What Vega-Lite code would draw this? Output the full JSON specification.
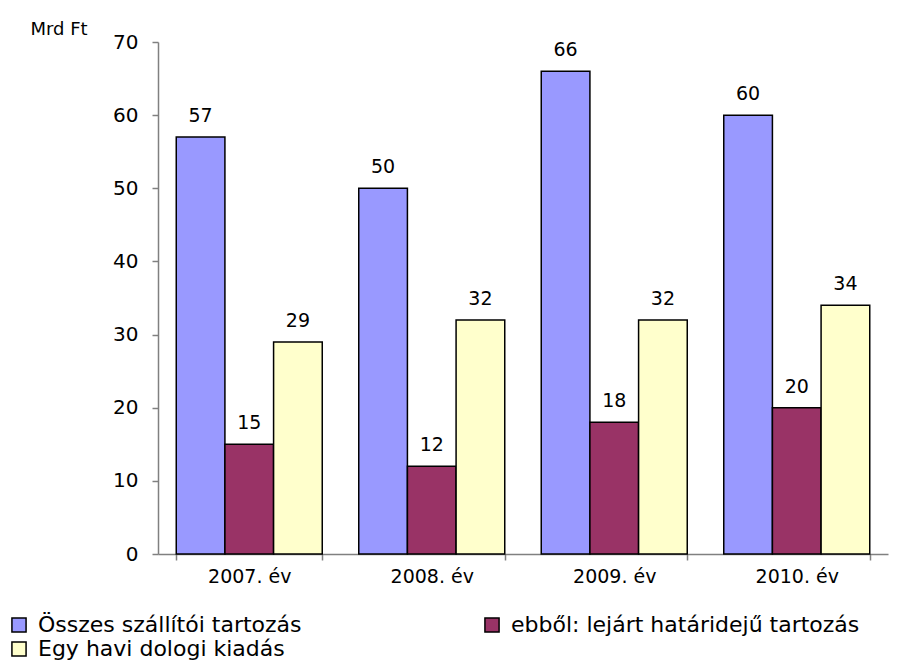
{
  "$schema": "https://vega.github.io/schema/vega-lite/v6.json",
  "autosize": {"type": "none"},
  "width": 730,
  "height": 512,
  "padding": {"left": 158, "top": 42, "right": 23, "bottom": 107},
  "background": "white",
  "config": {
    "view": {"stroke": null},
    "font": "DejaVu Sans",
    "axis": {"labelFont": "DejaVu Sans", "titleFont": "DejaVu Sans", "labelColor": "black", "titleColor": "black"},
    "legend": {"labelFont": "DejaVu Sans"}
  },
  "data": {
    "values": [
      {"ev": "2007. év", "sorozat": "Összes szállítói tartozás", "ertek": 57},
      {"ev": "2007. év", "sorozat": "ebből: lejárt határidejű  tartozás", "ertek": 15},
      {"ev": "2007. év", "sorozat": "Egy havi dologi kiadás", "ertek": 29},
      {"ev": "2008. év", "sorozat": "Összes szállítói tartozás", "ertek": 50},
      {"ev": "2008. év", "sorozat": "ebből: lejárt határidejű  tartozás", "ertek": 12},
      {"ev": "2008. év", "sorozat": "Egy havi dologi kiadás", "ertek": 32},
      {"ev": "2009. év", "sorozat": "Összes szállítói tartozás", "ertek": 66},
      {"ev": "2009. év", "sorozat": "ebből: lejárt határidejű  tartozás", "ertek": 18},
      {"ev": "2009. év", "sorozat": "Egy havi dologi kiadás", "ertek": 32},
      {"ev": "2010. év", "sorozat": "Összes szállítói tartozás", "ertek": 60},
      {"ev": "2010. év", "sorozat": "ebből: lejárt határidejű  tartozás", "ertek": 20},
      {"ev": "2010. év", "sorozat": "Egy havi dologi kiadás", "ertek": 34}
    ]
  },
  "encoding": {
    "x": {
      "field": "ev", "type": "nominal", "title": null,
      "scale": {"paddingInner": 0.2, "paddingOuter": 0.1},
      "axis": {
        "labelAngle": 0, "labelFontSize": 19, "labelPadding": 7,
        "domainColor": "#808080", "tickColor": "#808080", "tickSize": 6,
        "tickBand": "extent", "domainWidth": 1.5, "tickWidth": 1.5
      }
    },
    "xOffset": {
      "field": "sorozat", "type": "nominal",
      "sort": ["Összes szállítói tartozás", "ebből: lejárt határidejű  tartozás", "Egy havi dologi kiadás"],
      "scale": {"paddingInner": 0, "paddingOuter": 0}
    },
    "y": {
      "field": "ertek", "type": "quantitative",
      "scale": {"domain": [0, 70], "nice": false},
      "title": "Mrd Ft",
      "axis": {
        "values": [0, 10, 20, 30, 40, 50, 60, 70],
        "grid": false, "labelFontSize": 20, "labelPadding": 14,
        "domainColor": "#808080", "tickColor": "#808080", "tickSize": 6,
        "domainWidth": 1.5, "tickWidth": 1.5,
        "titleAngle": 0, "titleAlign": "left", "titleBaseline": "middle",
        "titleX": -128, "titleY": -13, "titleFontSize": 18, "titleFontWeight": "normal"
      }
    }
  },
  "layer": [
    {
      "mark": {"type": "bar", "stroke": "black", "strokeWidth": 1.5},
      "encoding": {
        "color": {
          "field": "sorozat", "type": "nominal", "title": null,
          "scale": {
            "domain": ["Összes szállítói tartozás", "ebből: lejárt határidejű  tartozás", "Egy havi dologi kiadás"],
            "range": ["#9999FF", "#993366", "#FFFFCC"]
          },
          "legend": {
            "orient": "none", "legendX": -150, "legendY": 572, "direction": "horizontal",
            "columns": 2, "columnPadding": 179, "rowPadding": 2,
            "symbolType": "square", "symbolSize": 200, "symbolStrokeColor": "black",
            "symbolStrokeWidth": 1.5, "symbolOpacity": 1,
            "labelFontSize": 22, "labelColor": "black", "labelLimit": 0, "labelOffset": 8
          }
        }
      }
    },
    {
      "mark": {"type": "text", "dy": -15, "baseline": "alphabetic", "fontSize": 19, "color": "black"},
      "encoding": {"text": {"field": "ertek", "type": "quantitative"}}
    }
  ]
}
